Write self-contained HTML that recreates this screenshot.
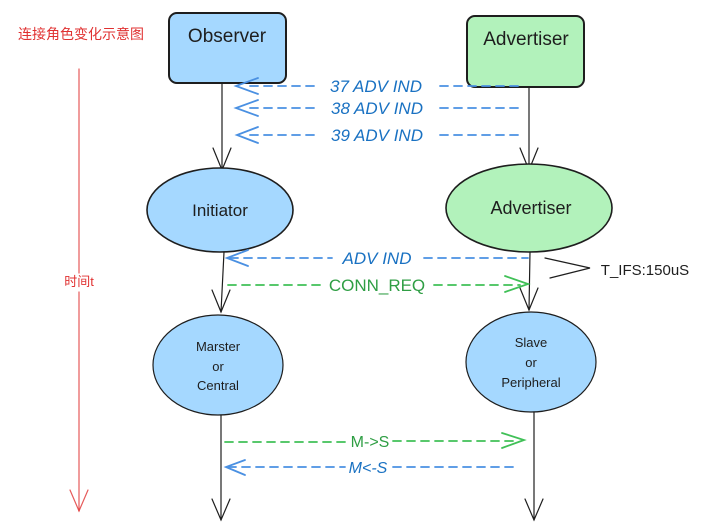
<!DOCTYPE html>
<html><head><meta charset="utf-8"><style>
html,body{margin:0;padding:0;background:#fff;width:708px;height:532px;overflow:hidden}
text{font-family:"Liberation Sans","Noto Sans CJK SC",sans-serif}
</style></head><body>
<svg width="708" height="532" viewBox="0 0 708 532" xmlns="http://www.w3.org/2000/svg">
<g fill="none" stroke-linecap="round">
<line x1="79" y1="69" x2="79" y2="273" stroke="#e03131" stroke-width="1.2" opacity="0.8"/>
<line x1="79" y1="292" x2="79" y2="511" stroke="#e03131" stroke-width="1.2" opacity="0.8"/>
<polyline points="70,490 79,511 88,490" stroke="#e03131" stroke-width="1.2" opacity="0.8"/>
<rect x="169" y="13" width="117" height="70" rx="8" fill="#a5d8ff" stroke="#1e1e1e" stroke-width="2"/>
<rect x="467" y="16" width="117" height="71" rx="8" fill="#b2f2bb" stroke="#1e1e1e" stroke-width="2"/>
<line x1="222" y1="84" x2="222" y2="170" stroke="#1e1e1e" stroke-width="1.2"/>
<polyline points="213,148 222,170 231,148" stroke="#1e1e1e" stroke-width="1.2"/>
<line x1="529" y1="87" x2="529" y2="170" stroke="#1e1e1e" stroke-width="1.2"/>
<polyline points="520,148 529,170 538,148" stroke="#1e1e1e" stroke-width="1.2"/>
<ellipse cx="220" cy="210" rx="73" ry="42" fill="#a5d8ff" stroke="#1e1e1e" stroke-width="1.6"/>
<ellipse cx="529" cy="208" rx="83" ry="44" fill="#b2f2bb" stroke="#1e1e1e" stroke-width="1.6"/>
<line x1="224" y1="252" x2="221" y2="312" stroke="#1e1e1e" stroke-width="1.2"/>
<polyline points="212,290 221,312 230,290" stroke="#1e1e1e" stroke-width="1.2"/>
<line x1="530" y1="252" x2="529" y2="310" stroke="#1e1e1e" stroke-width="1.2"/>
<polyline points="520,288 529,310 538,288" stroke="#1e1e1e" stroke-width="1.2"/>
<ellipse cx="218" cy="365" rx="65" ry="50" fill="#a5d8ff" stroke="#1e1e1e" stroke-width="1.2"/>
<ellipse cx="531" cy="362" rx="65" ry="50" fill="#a5d8ff" stroke="#1e1e1e" stroke-width="1.2"/>
<line x1="221" y1="415" x2="221" y2="520" stroke="#1e1e1e" stroke-width="1.2"/>
<polyline points="212,499 221,520 230,499" stroke="#1e1e1e" stroke-width="1.2"/>
<line x1="534" y1="412" x2="534" y2="520" stroke="#1e1e1e" stroke-width="1.2"/>
<polyline points="525,499 534,520 543,499" stroke="#1e1e1e" stroke-width="1.2"/>
<g stroke="#4a90e2" stroke-width="1.8" stroke-dasharray="8 6">
<line x1="250" y1="86" x2="314" y2="86"/><line x1="440" y1="86" x2="520" y2="86"/>
<line x1="250" y1="108" x2="314" y2="108"/><line x1="440" y1="108" x2="520" y2="108"/>
<line x1="250" y1="135" x2="314" y2="135"/><line x1="440" y1="135" x2="520" y2="135"/>
<line x1="230" y1="258" x2="332" y2="258"/><line x1="424" y1="258" x2="528" y2="258"/>
<line x1="228" y1="467" x2="345" y2="467"/><line x1="393" y1="467" x2="515" y2="467"/>
</g>
<g stroke="#4a90e2" stroke-width="1.8">
<polyline points="258,78 236,86 258,94"/><polyline points="258,100 236,108 258,116"/>
<polyline points="258,127 237,135 258,143"/><polyline points="248,250 227,258 248,266"/>
<polyline points="245,460 226,467 245,475"/>
</g>
<g stroke="#40c057" stroke-width="1.8" stroke-dasharray="8 6">
<line x1="228" y1="285" x2="320" y2="285"/><line x1="434" y1="285" x2="520" y2="285"/>
<line x1="225" y1="442" x2="348" y2="442"/><line x1="393" y1="441" x2="518" y2="441"/>
</g>
<g stroke="#40c057" stroke-width="1.8">
<polyline points="505,276 528,284 505,292"/><polyline points="502,433 524,440 502,448"/>
</g>
<polyline points="545,258 590,268 550,278" stroke="#1e1e1e" stroke-width="1.2"/>
</g>
<g font-size="16" fill="#1e1e1e" text-anchor="middle">
<text x="227" y="42" font-size="19">Observer</text>
<text x="526" y="45" font-size="19">Advertiser</text>
<text x="220" y="216" font-size="17">Initiator</text>
<text x="531" y="214" font-size="18">Advertiser</text>
<g font-size="13"><text x="218" y="351">Marster</text><text x="218" y="371">or</text><text x="218" y="390">Central</text>
<text x="531" y="347">Slave</text><text x="531" y="367">or</text><text x="531" y="387">Peripheral</text></g>
<text x="645" y="275" font-size="15">T_IFS:150uS</text>
</g>
<g font-size="17" fill="#1971c2" text-anchor="middle" font-style="italic">
<text x="376" y="92">37 ADV IND</text><text x="377" y="114">38 ADV IND</text>
<text x="377" y="141">39 ADV IND</text><text x="377" y="264">ADV IND</text>
<text x="368" y="473" font-size="16">M&lt;-S</text>
</g>
<g font-size="17" fill="#2f9e44" text-anchor="middle">
<text x="377" y="291">CONN_REQ</text><text x="370" y="447" font-size="16">M-&gt;S</text>
</g>
<g fill="#e03131" font-size="14" text-anchor="middle">
<text x="81" y="39">连接角色变化示意图</text>
<text x="79" y="286" font-size="13">时间t</text>
</g>
</svg>
</body></html>
